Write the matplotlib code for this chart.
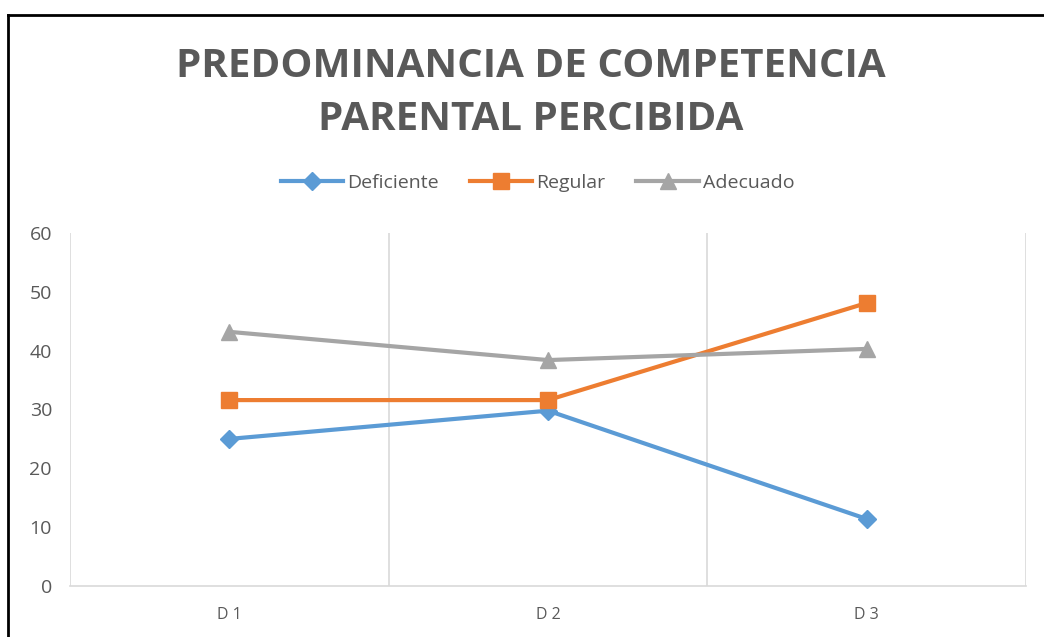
import matplotlib.pyplot as plt
from matplotlib.lines import Line2D

# datos
categorias = ['D1', 'D2', 'D3']
deficiente = [25.0, 29.8, 11.4]
regular = [31.6, 31.6, 48.1]
adecuado = [43.2, 38.4, 40.3]

plt.rcParams['font.family'] = ['Open Sans', 'DejaVu Sans']
gris_txt = '#595959'

fig = plt.figure(figsize=(10.44, 6.37), dpi=100)
ax = fig.add_axes([70 / 1044, 51 / 637, 956 / 1044, 353 / 637])

x = list(range(len(categorias)))
ax.plot(x, deficiente, color='#5B9BD5', lw=3, marker='D', ms=9, label='Deficiente')
ax.plot(x, regular, color='#ED7D31', lw=3, marker='s', ms=11, label='Regular')
ax.plot(x, adecuado, color='#A5A5A5', lw=3, marker='^', ms=12, label='Adecuado')

ax.set_xlim(-0.5, 2.5)
ax.set_ylim(0, 60)
ax.set_yticks(range(0, 61, 10))
ax.set_xticks(x)
ax.set_xticklabels(['D 1', 'D 2', 'D 3'], fontsize=11.5, color=gris_txt)
ax.set_xticks([-0.5, 0.5, 1.5, 2.5], minor=True)
ax.grid(axis='x', which='minor', color='#D9D9D9', lw=1.2)
ax.tick_params(axis='both', which='both', length=0)
ax.tick_params(axis='y', labelsize=14, labelcolor=gris_txt, pad=13)
ax.tick_params(axis='x', pad=15)
for s in ['top', 'right', 'left']:
    ax.spines[s].set_visible(False)
ax.spines['bottom'].set_color('#D9D9D9')
ax.spines['bottom'].set_linewidth(1.2)

fig.text(0.508, 0.854, 'PREDOMINANCIA DE COMPETENCIA\nPARENTAL PERCIBIDA',
         ha='center', va='center', fontsize=29, fontweight='bold', color=gris_txt,
         linespacing=1.45)

fig.legend(loc='center', bbox_to_anchor=(0.515, 0.713), ncol=3, frameon=False,
           fontsize=14, handlelength=3.2, columnspacing=1.6, handletextpad=0.2,
           labelcolor=gris_txt)

# marco negro
fig.add_artist(Line2D([8 / 1044, 8 / 1044], [0, 1 - 15 / 637], color='black', lw=2))
fig.add_artist(Line2D([8 / 1044, 1], [1 - 15 / 637, 1 - 15 / 637], color='black', lw=2))

fig.savefig('out.png', dpi=100)
